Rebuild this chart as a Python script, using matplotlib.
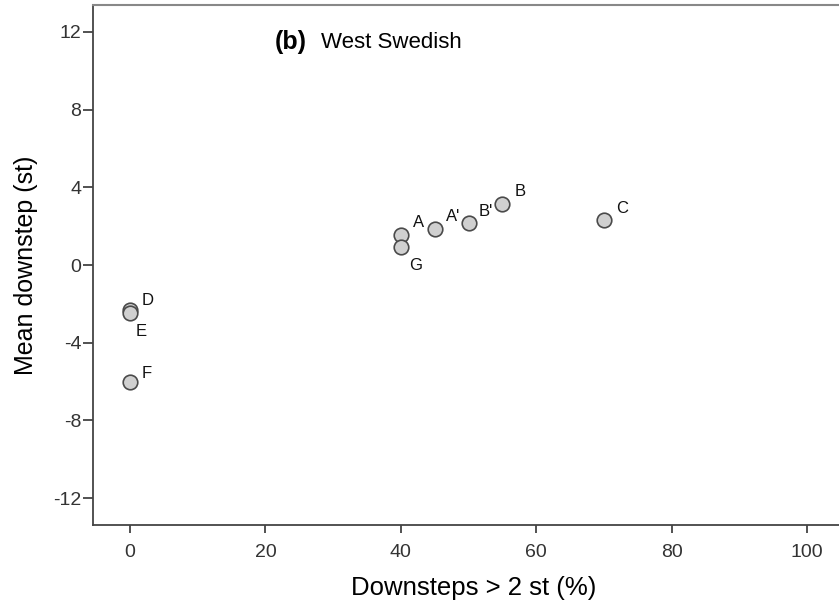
import matplotlib
matplotlib.use("Agg")
import matplotlib.pyplot as plt

# Percentage of downsteps larger than 2 semitones vs. mean downstep size
labels = ["A", "A'", "B'", "B", "C", "G", "D", "E", "F"]
pct_downsteps = [40, 45, 50, 55, 70, 40, 0, 0, 0]
mean_downstep = [1.55, 1.86, 2.15, 3.15, 2.3, 0.95, -2.3, -2.45, -6.05]
# label offsets in points
label_offsets = {"A": (9, 6), "A'": (8, 6), "B'": (7, 5), "B": (9, 6), "C": (9, 5),
                 "G": (6, -17), "D": (8, 3), "E": (4, -17), "F": (8, 3)}

xticks = [0, 20, 40, 60, 80, 100]
yticks = [-12, -8, -4, 0, 4, 8, 12]

plt.rcParams["font.family"] = ["Liberation Sans", "DejaVu Sans"]
plt.rcParams["axes.unicode_minus"] = False

fig = plt.figure(figsize=(8.39, 6.11), dpi=100)
ax = fig.add_axes([93 / 839, 86 / 611, 1 - 93 / 839, (525 - 5) / 611])

ax.scatter(pct_downsteps, mean_downstep, s=110, facecolor="#d0d0d0",
           edgecolor="#4a4a4a", linewidth=1.2, zorder=3)
for lab, x, y in zip(labels, pct_downsteps, mean_downstep):
    dx, dy = label_offsets[lab]
    ax.annotate(lab, (x, y), xytext=(dx, dy), textcoords="offset points",
                fontsize=12, color="#111111")

ax.set_xlim(-5.47, 104.7)
ax.set_ylim(-13.39, 13.39)
ax.set_xticks(xticks)
ax.set_yticks(yticks)
ax.tick_params(direction="out", length=6, width=1.2, labelsize=14,
               colors="#333333", labelcolor="#333333")
ax.tick_params(axis="x", pad=8)
ax.tick_params(axis="y", pad=1, length=7.5)

for side in ("left", "bottom"):
    ax.spines[side].set_color("#444444")
    ax.spines[side].set_linewidth(1.3)
ax.spines["top"].set_color("#888888")
ax.spines["top"].set_linewidth(1.5)
ax.spines["right"].set_visible(False)

ax.set_xlabel("Downsteps > 2 st (%)", fontsize=18.5)
ax.xaxis.set_label_coords(0.51, -0.098)
ax.set_ylabel("Mean downstep (st)", fontsize=18)
ax.yaxis.set_label_coords(-0.074, 0.5)

ax.text(0.244, 0.928, "(b)", transform=ax.transAxes, fontsize=18,
        fontweight="bold", va="center")
ax.text(0.305, 0.928, "West Swedish", transform=ax.transAxes, fontsize=16,
        va="center")

fig.savefig("out.png", dpi=100)
